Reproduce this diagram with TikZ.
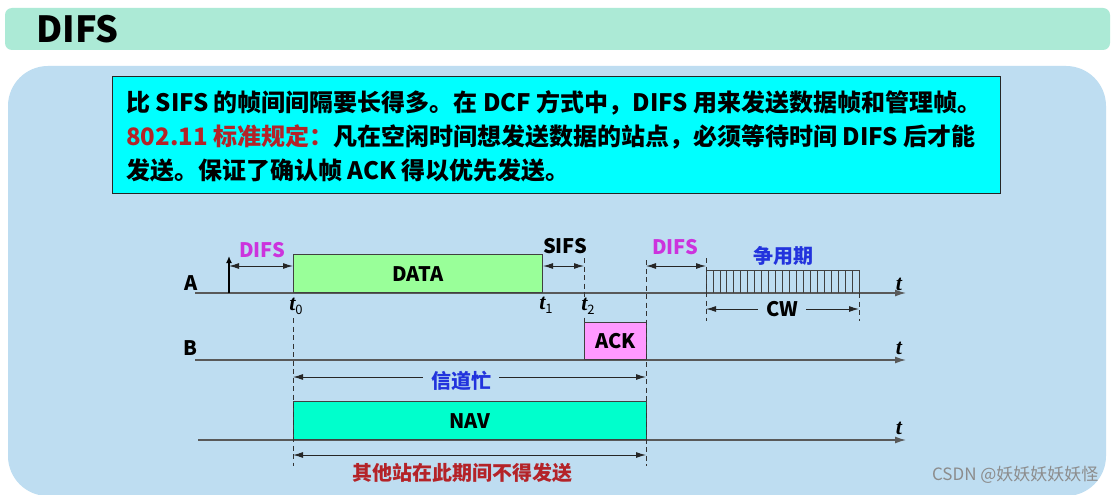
\documentclass[tikz,border=0pt]{standalone}
\usepackage{fontspec}
\setmainfont{Noto Sans CJK SC}
\newfontfamily\tfont{Liberation Serif}
\usetikzlibrary{arrows.meta,positioning}
\definecolor{mint}{RGB}{172,234,214}
\definecolor{panel}{RGB}{190,221,241}
\definecolor{boxcyan}{RGB}{0,255,255}
\definecolor{datagreen}{RGB}{153,255,153}
\definecolor{ackpink}{RGB}{255,153,255}
\definecolor{navgreen}{RGB}{0,255,204}
\definecolor{difsmag}{RGB}{204,51,221}
\definecolor{busyblue}{RGB}{34,51,221}
\definecolor{rulered}{RGB}{180,35,40}
\newcommand{\tm}[1]{{\tfont\bfseries\itshape t}\raisebox{-4pt}{\fontsize{13}{14}\selectfont #1}}
\begin{document}
\begin{tikzpicture}[x=1pt,y=-1pt,
  lbl/.style={font=\bfseries\fontsize{20}{24}\selectfont, inner sep=1pt},
  desc/.style={font=\bfseries\fontsize{24}{28}\selectfont, anchor=base west, inner sep=0pt},
  frame/.style={draw=black!75, line width=0.8pt, anchor=south west, inner sep=0pt,
    font=\bfseries\fontsize{20}{24}\selectfont},
  axis/.style={draw=black!65, line width=1.3pt, -{Latex[length=11pt,width=7pt]}},
  span/.style={draw=black!85, line width=1pt, {Latex[length=10pt,width=6pt]}-{Latex[length=10pt,width=6pt]}},
  guide/.style={draw=black!80, line width=0.9pt, dash pattern=on 5pt off 3.5pt},
  tick/.style={font=\fontsize{22}{24}\selectfont, inner sep=1pt}
]
\useasboundingbox (0,0) rectangle (1117,495);
\fill[white] (0,0) rectangle (1117,495);

% title bar and panel
\fill[mint, rounded corners=7pt] (5,8) rectangle (1110,50);
\node[font=\bfseries\fontsize{36}{40}\selectfont, anchor=west, inner sep=0pt] (title) at (36,29) {DIFS};
\fill[panel, rounded corners=40pt] (8,66) rectangle (1106,496);

% description
\node[draw=black!85, line width=1pt, fill=boxcyan, minimum width=888pt, minimum height=117pt,
  anchor=north west] (box) at (112,76) {};
\node[desc] (desc1) at (126,111) {比 SIFS 的帧间间隔要长得多。在 DCF 方式中，DIFS 用来发送数据帧和管理帧。};
\node[desc] (desc2) at (126,145) {\textcolor{rulered}{802.11 标准规定：}凡在空闲时间想发送数据的站点，必须等待时间 DIFS 后才能};
\node[desc] (desc3) at (126,179) {发送。保证了确认帧 ACK 得以优先发送。};

% time axes
\coordinate (A0) at (195,293);
\coordinate (A1) at (906,293);
\coordinate (B0) at (195,360);
\coordinate (B1) at (906,360);
\coordinate (N0) at (198,440);
\coordinate (N1) at (906,440);
\draw[axis] (A0) -- (A1);
\draw[axis] (B0) -- (B1);
\draw[axis] (N0) -- (N1);
\node[lbl, anchor=base] (labA) at (191,290) {A};
\node[lbl, anchor=base] (labB) at (190,355) {B};
\node[tick] (endA) at (899,286) {\tm{}};
\node[tick] (endB) at (899,350) {\tm{}};
\node[tick] (endN) at (899,430) {\tm{}};

% frames
\node[frame, fill=datagreen, minimum width=249pt, minimum height=38pt] (data) at (293,293) {DATA};
\node[frame, fill=ackpink, minimum width=62pt, minimum height=37pt] (ack) at (584,360) {ACK};
\node[frame, fill=navgreen, minimum width=353pt, minimum height=38pt] (nav) at (293,440) {NAV};

% contention window slots
\draw[draw=black!75, line width=0.8pt] (706,293) -- (706,270) -- (859,270) -- (859,293);
\foreach \i in {1,...,21}
  \draw[draw=black!75, line width=0.8pt] (706+\i*153/22,270) -- (706+\i*153/22,293);
\node[lbl, text=busyblue] (contend) at (783,256) {争用期};

% station A starts sensing
\coordinate (s0) at (229,293);
\coordinate (s0top) at (229,256);
\draw[line width=2.2pt, -{Latex[length=7pt,width=6pt]}] (s0) -- (s0top);

% guide lines
\coordinate (g0) at (293,318);
\coordinate (g0b) at (293,466);
\coordinate (g2) at (584,258);
\coordinate (g3) at (646,260);
\coordinate (g3b) at (646,466);
\coordinate (g4) at (706,258);
\coordinate (g4b) at (706,321);
\coordinate (g5) at (859,293);
\coordinate (g5b) at (859,321);
\draw[guide] (g0) -- (g0b);
\draw[guide] (g2) -- (ack.north west);
\draw[guide] (g3) -- (g3b);
\draw[guide] (g4) -- (g4b);
\draw[guide] (g5) -- (g5b);

% time marks
\node[tick, fill=panel] (mt0) at (296,306) {\tm{0}};
\node[tick, fill=panel] (mt1) at (546,305) {\tm{1}};
\node[tick, fill=panel] (mt2) at (588,306) {\tm{2}};

% spans
\coordinate (d1l) at (229,266);
\coordinate (d1r) at (293,266);
\coordinate (sfl) at (543,266);
\coordinate (sfr) at (584,266);
\coordinate (d2l) at (646,266);
\coordinate (d2r) at (706,266);
\coordinate (cwl) at (706,309);
\coordinate (cwr) at (859,309);
\coordinate (bsl) at (293,377);
\coordinate (bsr) at (646,377);
\coordinate (hdl) at (293,455);
\coordinate (hdr) at (646,455);
\draw[span] (d1l) -- (d1r);
\draw[span] (sfl) -- (sfr);
\draw[span] (d2l) -- (d2r);
\draw[span] (cwl) -- (cwr);
\draw[span] (bsl) -- (bsr);
\draw[span] (hdl) -- (hdr);
\node[lbl, text=difsmag] (difs1) at (262,250) {DIFS};
\node[lbl] (sifs) at (565,246) {SIFS};
\node[lbl, text=difsmag] (difs2) at (675,247) {DIFS};
\node[lbl, fill=panel, inner xsep=8pt] (cw) at (782,309) {CW};
\node[lbl, text=busyblue, fill=panel, inner xsep=8pt] (busy) at (461,381) {信道忙};
\node[lbl, text=rulered] (hold) at (462,473) {其他站在此期间不得发送};

% watermark
\node[font=\fontsize{17}{20}\selectfont, text=black!45, anchor=east] (mark) at (1102,475) {CSDN @妖妖妖妖妖怪};
\end{tikzpicture}
\end{document}
